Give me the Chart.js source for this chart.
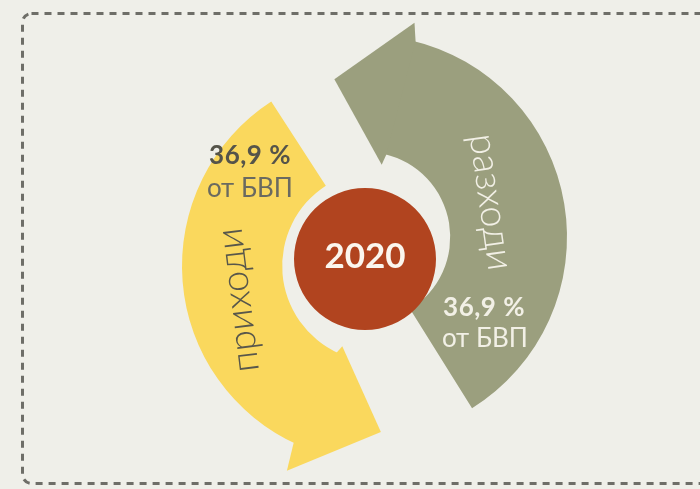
<!DOCTYPE html>
<html><head><meta charset="utf-8">
<script src="https://cdn.jsdelivr.net/npm/chart.js@4.4.1/dist/chart.umd.min.js"></script>
<style>
html,body{margin:0;padding:0;background:#efefe9;}
#wrap{position:relative;width:700px;height:489px;overflow:hidden;}
#wrap canvas{position:absolute;left:0;top:0;}
</style></head><body>
<div id="wrap">
<canvas id="cIncome" width="700" height="489"></canvas>
<canvas id="cSpend" width="700" height="489"></canvas>
<canvas id="cYear" width="700" height="489"></canvas>
</div>
<script>
// ---- data ----
const flowNames = ['приходи', 'разходи'];
const flowShares = [36.9, 36.9];          // % of GDP
const shareCaption = ['от БВП', 'от БВП'];
const flowSweepDeg = [123, 135];          // arc length of each arrow
const yearLabels = ['2020'];
const yearValues = [1];

const fmtShare = v => String(v).replace('.', ',') + ' %';
const RAD = Math.PI / 180;

function pad(cx, cy) {
  return { left: Math.max(0, 2*cx - 700), right: Math.max(0, 700 - 2*cx),
           top: Math.max(0, 2*cy - 489), bottom: Math.max(0, 489 - 2*cy) };
}

function arrowPlugin(spec) {
  return {
    id: 'arrowHead',
    afterDatasetsDraw(chart) {
      const arc = chart.getDatasetMeta(0).data[0];
      const {x, y, startAngle, innerRadius, outerRadius} = arc;
      const ctx = chart.ctx;
      const mid = (innerRadius + outerRadius) / 2;
      const pt = (a, r) => [x + r * Math.cos(a), y + r * Math.sin(a)];
      const pts = [
        pt(startAngle + 1.5 * RAD, innerRadius),
        pt(startAngle, innerRadius - spec.innerBarb),
        pt(startAngle - spec.tipSweep * RAD, mid + spec.tipLift),
        pt(startAngle, outerRadius + spec.outerBarb),
        pt(startAngle + 1.5 * RAD, outerRadius)
      ];
      ctx.save();
      ctx.beginPath();
      pts.forEach((p, i) => i ? ctx.lineTo(p[0], p[1]) : ctx.moveTo(p[0], p[1]));
      ctx.closePath();
      ctx.fillStyle = spec.color;
      ctx.fill();
      ctx.restore();
    }
  };
}

function textPlugin(items) {
  return {
    id: 'flowText',
    afterDraw(chart) {
      const arc = chart.getDatasetMeta(0).data[0];
      const ctx = chart.ctx;
      items.forEach(it => {
        const a = (it.angle - 90) * RAD;
        ctx.save();
        ctx.translate(arc.x + it.r * Math.cos(a), arc.y + it.r * Math.sin(a));
        ctx.rotate((it.rotate || 0) * RAD);
        ctx.font = it.font;
        ctx.fillStyle = it.color;
        ctx.textAlign = 'center';
        ctx.textBaseline = 'middle';
        if (it.spacing) ctx.letterSpacing = it.spacing;
        ctx.fillText(it.text, 0, 0);
        ctx.restore();
      });
    }
  };
}

const framePlugin = {
  id: 'frame',
  beforeDraw(chart) {
    const ctx = chart.ctx;
    ctx.save();
    ctx.fillStyle = '#efefe9';
    ctx.fillRect(0, 0, chart.width, chart.height);
    ctx.beginPath();
    ctx.roundRect(22.5, 13.5, 700, 470, 9);
    ctx.setLineDash([7, 6]);
    ctx.lineWidth = 3;
    ctx.strokeStyle = '#6e6e68';
    ctx.stroke();
    ctx.restore();
  }
};

function flowChart(id, idx, o) {
  return new Chart(document.getElementById(id), {
    type: 'doughnut',
    data: {
      labels: [flowNames[idx], ''],
      datasets: [{
        data: [flowSweepDeg[idx], 360 - flowSweepDeg[idx]],
        backgroundColor: [o.color, 'rgba(0,0,0,0)'],
        borderWidth: 0, hoverOffset: 0, offset: 0
      }]
    },
    options: {
      responsive: false, animation: false, events: [],
      rotation: o.rotation, circumference: 360,
      radius: o.outer, cutout: o.inner,
      layout: { padding: pad(o.cx, o.cy) },
      plugins: { legend: { display: false }, tooltip: { enabled: false } }
    },
    plugins: [...(o.extra || []), arrowPlugin(o.arrow), textPlugin(o.texts)]
  });
}

const darkTxt = '#58574b';
const lightTxt = '#f2f0e6';

flowChart('cIncome', 0, {
  color: '#fad85d', rotation: 204, cx: 378, cy: 266, outer: 196, inner: 109,
  extra: [framePlugin],
  arrow: { color: '#fad85d', innerBarb: 8, outerBarb: 28, tipSweep: 25, tipLift: 20 },
  texts: [
    { text: flowNames[0], angle: 256.3, r: 144, rotate: -97, font: '300 38px Lato', color: darkTxt },
    { text: fmtShare(flowShares[0]), angle: 310.7, r: 168.8, font: 'bold 26px Lato', color: '#55544a', spacing: '0.5px' },
    { text: shareCaption[0], angle: 301, r: 149.4, font: '26px Lato', color: '#6a6a60' }
  ]
});

flowChart('cSpend', 1, {
  color: '#9b9f7e', rotation: 13, cx: 365, cy: 237, outer: 202, inner: 100,
  arrow: { color: '#9b9f7e', innerBarb: 11, outerBarb: 18, tipSweep: 24, tipLift: 17 },
  texts: [
    { text: flowNames[1], angle: 74.5, r: 131, rotate: 82, font: '300 38px Lato', color: lightTxt },
    { text: fmtShare(flowShares[1]), angle: 120.8, r: 138.6, font: 'bold 26px Lato', color: lightTxt, spacing: '0.5px' },
    { text: shareCaption[1], angle: 130.4, r: 157.5, font: '26px Lato', color: lightTxt }
  ]
});

new Chart(document.getElementById('cYear'), {
  type: 'pie',
  data: {
    labels: yearLabels,
    datasets: [{ data: yearValues, backgroundColor: ['#b1441f'], borderWidth: 0, hoverOffset: 0 }]
  },
  options: {
    responsive: false, animation: false, events: [],
    radius: 71,
    layout: { padding: pad(365, 259) },
    plugins: { legend: { display: false }, tooltip: { enabled: false } }
  },
  plugins: [{
    id: 'yearText',
    afterDraw(chart) {
      const arc = chart.getDatasetMeta(0).data[0];
      const ctx = chart.ctx;
      ctx.save();
      ctx.font = 'bold 35px Lato';
      ctx.fillStyle = '#fbf6ee';
      ctx.textAlign = 'center';
      ctx.textBaseline = 'middle';
      ctx.fillText(yearLabels[0], arc.x, arc.y - 2);
      ctx.restore();
    }
  }]
});
</script>
</body></html>
